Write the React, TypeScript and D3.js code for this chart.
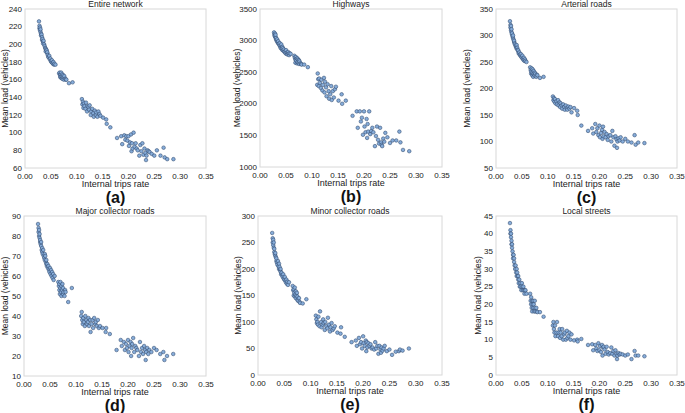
import React, { useRef, useEffect } from "react";
import * as d3 from "d3";

// shared x values (internal trips rate), grouped by scenario cluster
const rates: number[] = [
  // cluster 1
  0.027, 0.028, 0.028, 0.029, 0.029, 0.03, 0.03, 0.031, 0.031, 0.032,
  0.033, 0.033, 0.034, 0.035, 0.035, 0.036, 0.037, 0.038, 0.039, 0.04,
  0.04, 0.041, 0.042, 0.043, 0.043, 0.044, 0.045, 0.046, 0.047, 0.048,
  0.049, 0.05, 0.051, 0.052, 0.053, 0.054, 0.055, 0.056, 0.057, 0.059,
  // cluster 2
  0.066, 0.067, 0.068, 0.068, 0.069, 0.07, 0.07, 0.071, 0.072, 0.072,
  0.073, 0.074, 0.075, 0.075, 0.076, 0.078, 0.079, 0.08, 0.085, 0.092,
  // cluster 3
  0.11, 0.111, 0.112, 0.113, 0.114, 0.115, 0.117, 0.118, 0.12, 0.121,
  0.123, 0.124, 0.125, 0.127, 0.128, 0.13, 0.132, 0.133, 0.135, 0.137,
  0.138, 0.14, 0.142, 0.144, 0.146, 0.151, 0.157, 0.158, 0.165,
  // cluster 4
  0.178, 0.186, 0.188, 0.192, 0.194, 0.196, 0.198, 0.2, 0.201, 0.203,
  0.205, 0.206, 0.207, 0.208, 0.21, 0.212, 0.214, 0.216, 0.218, 0.221,
  0.223, 0.225, 0.227, 0.229, 0.231, 0.233, 0.234, 0.235, 0.237, 0.239,
  0.241, 0.245, 0.25, 0.255, 0.262, 0.268, 0.27, 0.275, 0.287,
];

const entireNetwork: number[] = [
  226, 221, 218, 219, 216, 214, 217, 212, 210, 211, 208, 205, 206, 203, 201, 204, 200, 198, 196, 195,
  192, 194, 193, 190, 191, 188, 186, 185, 187, 183, 184, 181, 180, 182, 179, 178, 180, 177, 178, 177,
  167, 168, 165, 163, 166, 168, 162, 164, 166, 161, 163, 165, 162, 160, 164, 161, 160, 160, 156, 157,
  138, 132, 135, 128, 133, 130, 127, 134, 124, 130, 129, 126, 131, 120, 124, 127, 122, 118, 125, 120,
  123, 118, 124, 121, 119, 117, 115, 110, 106,
  94, 96, 87, 97, 92, 96, 91, 96, 85, 89, 98, 79, 88, 82, 100, 84, 88, 82, 80, 74,
  86, 79, 88, 75, 82, 77, 69, 74, 80, 79, 78, 76, 74, 80, 74, 83, 72, 70, 70,
];

const highways: number[] = [
  3130, 3100, 3080, 3110, 3060, 3050, 3090, 3020, 3040, 3000, 2990, 3020, 2970, 2960, 2990, 2950, 2930, 2960, 2900, 2920,
  2880, 2940, 2870, 2900, 2850, 2880, 2840, 2860, 2820, 2830, 2800, 2850, 2790, 2810, 2780, 2820, 2790, 2770, 2800, 2790,
  2760, 2730, 2700, 2650, 2740, 2710, 2680, 2640, 2720, 2660, 2700, 2650, 2690, 2630, 2670, 2640, 2630, 2620, 2620, 2580,
  2300, 2480, 2390, 2280, 2400, 2330, 2250, 2380, 2210, 2300, 2410, 2180, 2350, 2260, 2120, 2310, 2200, 2080, 2150, 2280,
  2060, 2200, 2100, 2230, 2270, 2050, 2150, 2000, 2050,
  1810, 1880, 1620, 1880, 1720, 1780, 1510, 1880, 1640, 1550, 1760, 1460, 1680, 1560, 1880, 1520, 1570, 1620, 1550, 1330,
  1490, 1640, 1430, 1370, 1620, 1390, 1350, 1330, 1450, 1400, 1540, 1470, 1380, 1420, 1420, 1560, 1390, 1270, 1250,
];

const arterialRoads: number[] = [
  327, 320, 315, 318, 310, 306, 312, 302, 304, 298, 295, 300, 292, 288, 290, 285, 283, 280, 278, 282,
  275, 277, 273, 270, 272, 266, 268, 264, 262, 265, 260, 258, 262, 256, 254, 258, 252, 255, 252, 250,
  240, 235, 228, 232, 238, 225, 230, 236, 222, 228, 233, 226, 224, 230, 228, 222, 226, 225, 220, 222,
  185, 178, 182, 175, 180, 172, 176, 170, 178, 168, 174, 165, 172, 168, 162, 170, 165, 160, 168, 163,
  160, 166, 162, 165, 155, 163, 158, 150, 130,
  120, 125, 115, 133, 118, 125, 112, 130, 108, 116, 122, 105, 128, 110, 118, 108, 114, 103, 110, 112,
  100, 120, 108, 92, 110, 104, 88, 100, 106, 102, 108, 100, 105, 100, 98, 112, 94, 98, 97,
];

const majorCollector: number[] = [
  86, 84, 82, 83, 80, 79, 81, 77, 78, 76, 75, 77, 73, 74, 72, 71, 73, 70, 69, 71,
  68, 70, 67, 66, 68, 65, 66, 64, 65, 63, 62, 64, 61, 63, 60, 62, 59, 61, 58, 60,
  57, 55, 53, 56, 51, 54, 57, 52, 55, 50, 53, 56, 51, 54, 52, 50, 53, 52, 47, 54,
  40, 42, 38, 36, 39, 37, 35, 40, 38, 36, 37, 39, 35, 38, 32, 36, 38, 34, 39, 36,
  37, 35, 38, 34, 35, 34, 32, 34, 31,
  23, 28, 25, 27, 23, 26, 24, 28, 22, 25, 27, 20, 24, 26, 29, 22, 25, 24, 23, 20,
  27, 22, 24, 21, 25, 23, 18, 22, 24, 21, 23, 22, 24, 23, 21, 22, 18, 20, 21,
];

const minorCollector: number[] = [
  268, 258, 250, 255, 245, 240, 250, 232, 238, 228, 225, 230, 222, 215, 220, 212, 208, 215, 205, 210,
  200, 204, 198, 195, 200, 190, 193, 188, 185, 190, 182, 180, 185, 178, 175, 180, 172, 176, 170, 175,
  168, 160, 150, 162, 155, 148, 165, 152, 158, 145, 150, 155, 142, 148, 140, 145, 138, 136, 135, 143,
  112, 105, 98, 100, 95, 110, 92, 120, 100, 90, 95, 105, 98, 85, 100, 92, 88, 108, 95, 82,
  90, 98, 85, 88, 92, 80, 78, 90, 72,
  62, 65, 55, 70, 58, 62, 50, 73, 60, 55, 65, 45, 62, 52, 60, 55, 58, 50, 52, 48,
  62, 50, 55, 40, 55, 48, 42, 52, 46, 50, 55, 45, 48, 38, 44, 45, 48, 46, 50,
];

const localStreets: number[] = [
  43, 41, 40, 39, 40, 38, 37, 36, 37, 35, 34, 33, 34, 32, 33, 31, 30, 31, 29, 30,
  28, 29, 28, 27, 28, 26, 27, 25, 26, 25, 24, 26, 25, 24, 25, 24, 23, 24, 24, 23,
  23, 21, 20, 22, 19, 21, 18, 20, 21, 19, 20, 18, 19, 21, 18, 19, 18, 17.8, 17.8, 16.5,
  14, 15, 13, 12, 14, 11, 12, 15, 11, 12, 13, 10.5, 12, 11, 13, 10, 11.5, 12, 10, 12.5,
  10.5, 11, 12, 10, 11.5, 9.8, 10, 9.5, 10.2,
  8.5, 8.7, 7, 8.5, 7.5, 6.8, 9, 7, 8.2, 6.5, 8.5, 5.5, 7.8, 8, 7.2, 6, 8, 6.5, 5.8, 6.2,
  7.8, 6, 6.8, 5.5, 7, 6, 4.5, 5.5, 6.2, 5.8, 6, 5.8, 5.5, 5.8, 4.5, 6.8, 5.5, 5.5, 5.3,
];

const titles = ["Entire network", "Highways", "Arterial roads", "Major collector roads", "Minor collector roads", "Local streets"];
const letters = ["(a)", "(b)", "(c)", "(d)", "(e)", "(f)"];
const seriesList = [entireNetwork, highways, arterialRoads, majorCollector, minorCollector, localStreets];
const yDomains: [number, number][] = [[60, 240], [1000, 3500], [50, 350], [10, 90], [0, 300], [0, 45]];
const yTickSteps = [20, 500, 50, 10, 50, 5];
const xTicks = [0, 0.05, 0.1, 0.15, 0.2, 0.25, 0.3, 0.35];

// plot frames [left, top, right, bottom]
const frames: [number, number, number, number][] = [
  [25, 9, 206, 168],
  [260, 9, 442, 167],
  [496, 9, 677, 168],
  [24, 216, 206, 376],
  [258, 216, 442, 375],
  [496, 216, 677, 375],
];
// baseline x of the rotated y-axis label
const yLabelX = [8, 240, 470, 8, 241, 481];

const W = 685;
const H = 413;
const FONT = "'Liberation Sans', Arial, sans-serif";

const App: React.FC = () => {
  const ref = useRef<SVGSVGElement | null>(null);

  useEffect(() => {
    const svg = d3.select(ref.current);
    svg.selectAll("*").remove();

    frames.forEach(([l, t, r, b], i) => {
      const g = svg.append("g");
      const x = d3.scaleLinear().domain([0, 0.35]).range([l, r]);
      const y = d3.scaleLinear().domain(yDomains[i]).range([b, t]);
      const step = yTickSteps[i];
      const yTicks = d3.range(yDomains[i][0], yDomains[i][1] + step / 2, step);

      g.append("rect")
        .attr("x", l)
        .attr("y", t)
        .attr("width", r - l)
        .attr("height", b - t)
        .attr("fill", "#fff")
        .attr("stroke", "#d8d8d8")
        .attr("stroke-width", 1);

      g.selectAll(".xt")
        .data(xTicks)
        .enter()
        .append("text")
        .attr("x", (d) => x(d))
        .attr("y", b + 10.5)
        .attr("text-anchor", "middle")
        .attr("font-size", 8)
        .attr("font-family", FONT)
        .attr("fill", "#222")
        .text((d) => d3.format(".2f")(d));

      g.selectAll(".yt")
        .data(yTicks)
        .enter()
        .append("text")
        .attr("x", l - 3)
        .attr("y", (d) => y(d) + 2.5)
        .attr("text-anchor", "end")
        .attr("font-size", 8)
        .attr("font-family", FONT)
        .attr("fill", "#222")
        .text((d) => String(d));

      g.append("text")
        .attr("x", (l + r) / 2)
        .attr("y", t - 2)
        .attr("text-anchor", "middle")
        .attr("font-size", 8.5)
        .attr("font-family", FONT)
        .attr("fill", "#222")
        .text(titles[i]);

      g.append("text")
        .attr("x", (l + r) / 2)
        .attr("y", b + 19)
        .attr("text-anchor", "middle")
        .attr("font-size", 9)
        .attr("font-family", FONT)
        .attr("fill", "#222")
        .text("Internal trips rate");

      g.append("text")
        .attr("x", (l + r) / 2)
        .attr("y", b + 34.5)
        .attr("text-anchor", "middle")
        .attr("font-size", 16)
        .attr("font-weight", "bold")
        .attr("font-family", FONT)
        .attr("fill", "#111")
        .text(letters[i]);

      g.append("text")
        .attr("transform", `translate(${yLabelX[i]},${(t + b) / 2}) rotate(-90)`)
        .attr("text-anchor", "middle")
        .attr("font-size", 8.5)
        .attr("font-family", FONT)
        .attr("fill", "#222")
        .text("Mean load (vehicles)");

      const vals = seriesList[i];
      const pts = d3.range(Math.min(rates.length, vals.length)).map((k) => [rates[k], vals[k]] as [number, number]);

      g.selectAll("circle")
        .data(pts)
        .enter()
        .append("circle")
        .attr("cx", (d) => x(d[0]))
        .attr("cy", (d) => y(d[1]))
        .attr("r", 1.8)
        .attr("fill", "#86acd9")
        .attr("stroke", "#2f4a6e")
        .attr("stroke-width", 0.55);
    });
  }, []);

  return (
    <svg
      ref={ref}
      width={W}
      height={H}
      style={{ position: "absolute", left: 0, top: 0, background: "#fff" }}
    />
  );
};

export default App;
